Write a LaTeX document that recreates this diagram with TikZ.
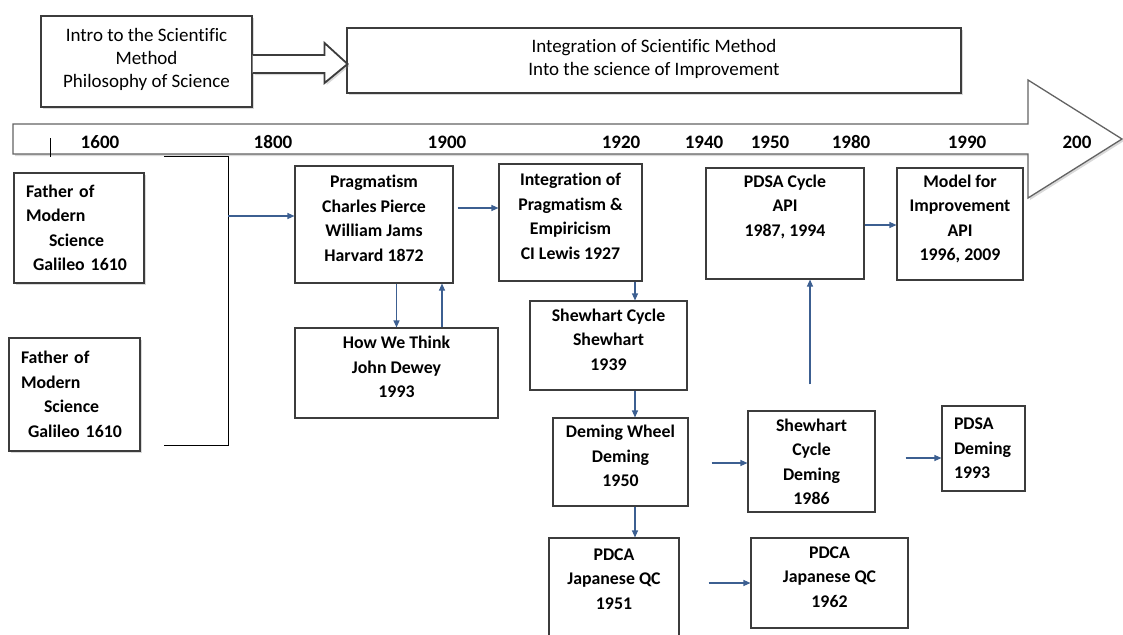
\documentclass[tikz,border=0pt]{standalone}
\usepackage{fontspec}
\setmainfont[Ligatures=NoCommon]{Carlito}
\usetikzlibrary{arrows.meta, shadows}
\definecolor{linkblue}{RGB}{60,95,145}
\definecolor{framegray}{RGB}{60,60,60}

\begin{document}
\begin{tikzpicture}[x=1pt, y=-1pt,
  every node/.style={font=\fontsize{17.8}{24.5}\selectfont\bfseries},
  box/.style={draw=framegray, line width=1.1pt, fill=white, align=center, inner sep=0pt, text depth=12pt},
  leftbox/.style={draw=framegray, line width=1.1pt, fill=white, align=left, inner ysep=0pt, inner xsep=12pt},
  shadowed/.style={drop shadow={shadow xshift=2pt, shadow yshift=-2pt, opacity=0.3}},
  headbox/.style={box, shadowed, font=\fontsize{19}{23}\selectfont, text depth=7pt},
  year/.style={font=\fontsize{19}{20}\selectfont\bfseries, inner sep=0pt},
  link/.style={draw=linkblue, line width=1.1pt, -{Triangle[length=7pt, width=6pt]}},
  bracket/.style={black, line width=1pt}]
\useasboundingbox (0,0) rectangle (1123,634);

\draw[draw=framegray!80, line width=1.3pt, fill=white, shadowed]
  (13,124) -- (1028,124) -- (1028,80) -- (1122,139) -- (1028,198) -- (1028,154) -- (13,154) -- cycle;
\draw[bracket] (50,138) -- (50,157);

\node[year] (y1600) at (100,142) {1600};
\node[year] (y1800) at (273,142) {1800};
\node[year] (y1900) at (447,142) {1900};
\node[year] (y1920) at (621,142) {1920};
\node[year] (y1940) at (704,142) {1940};
\node[year] (y1950) at (770,142) {1950};
\node[year] (y1980) at (851,142) {1980};
\node[year] (y1990) at (967,142) {1990};
\node[year] (y2000) at (1077,142) {200};

\node[headbox, minimum width=211, minimum height=91] (intro) at (146.5,61.5) {Intro to the Scientific\\Method\\Philosophy of Science};
\node[headbox, minimum width=614, minimum height=65] (integ) at (654,60.5) {Integration of Scientific Method\\Into the science of Improvement};
\draw[draw=framegray, line width=1.8pt, fill=white, shadowed]
  (intro.east) ++(0,-6.5) -- ++(72,0) -- ++(0,-12) -- ++(23,21) -- ++(-23,19) -- ++(0,-10) -- ++(-72,0);

\node[leftbox, shadowed, text width=106, minimum height=110] (father1) at (79,228) {Father of\\Modern\\\hspace*{23pt}Science\\\hspace*{7pt}Galileo 1610};
\node[leftbox, shadowed, text width=107, minimum height=113] (father2) at (74.5,394.5) {Father of\\Modern\\\hspace*{23pt}Science\\\hspace*{7pt}Galileo 1610};
\draw[bracket] (164,156) -- (228,156) -- (228,445) -- (164,445);
\coordinate (brk) at (228,216);

\node[box, minimum width=158, minimum height=117] (prag) at (374,224.5) {Pragmatism\\Charles Pierce\\William Jams\\Harvard 1872};
\node[box, minimum width=143, minimum height=117] (intpe) at (570.5,222.5) {Integration of\\Pragmatism \&\\Empiricism\\CI Lewis 1927};
\node[box, minimum width=203, minimum height=90] (think) at (396.5,373) {How We Think\\John Dewey\\1993};
\node[box, minimum width=157, minimum height=89] (shew) at (608.5,345.5) {Shewhart Cycle\\Shewhart\\1939};
\node[box, minimum width=135, minimum height=88] (wheel) at (620.5,462) {Deming Wheel\\Deming\\1950};
\node[box, minimum width=130, minimum height=102, text depth=20pt] (pdca51) at (614,589) {PDCA\\Japanese QC\\1951};
\node[box, minimum width=157, minimum height=90] (pdca62) at (829.5,583) {PDCA\\Japanese QC\\1962};
\node[box, minimum width=127, minimum height=101, text depth=0pt] (sdem) at (811.5,461.5) {Shewhart\\Cycle\\Deming\\1986};
\node[leftbox, text width=59, minimum height=85] (pdsad) at (983.5,448.5) {PDSA\\Deming\\1993};
\node[box, minimum width=158, minimum height=111, text depth=36pt] (pdsa) at (785,223.5) {PDSA Cycle\\API\\1987, 1994};
\node[box, minimum width=126, minimum height=112] (model) at (960,224) {Model for\\Improvement\\API\\1996, 2009};

\draw[link] (brk) -- (brk -| prag.west);
\draw[link, shorten <=4pt] (prag.east |- 0,208) -- (intpe.west |- 0,208);
\draw[link] (prag.south -| think.north) -- (think.north);
\draw[link] ([xshift=45.5pt]think.north) -- ([xshift=45.5pt]think.north |- prag.south);
\draw[link] (intpe.south -| 635,0) -- (shew.north -| 635,0);
\draw[link] (shew.south -| 635,0) -- (wheel.north -| 635,0);
\draw[link] (wheel.south -| 635,0) -- (pdca51.north -| 635,0);
\draw[link, shorten <=23pt] (wheel.east |- 0,463) -- (sdem.west |- 0,463);
\draw[link, shorten <=29pt] (pdca51.east |- 0,583) -- (pdca62.west |- 0,583);
\draw[link, shorten <=30pt] (sdem.east |- 0,458) -- (pdsad.west |- 0,458);
\draw[link, shorten <=26pt] (sdem.north -| 810,0) -- (pdsa.south -| 810,0);
\draw[link] (pdsa.east |- 0,225) -- (model.west |- 0,225);
\end{tikzpicture}
\end{document}
